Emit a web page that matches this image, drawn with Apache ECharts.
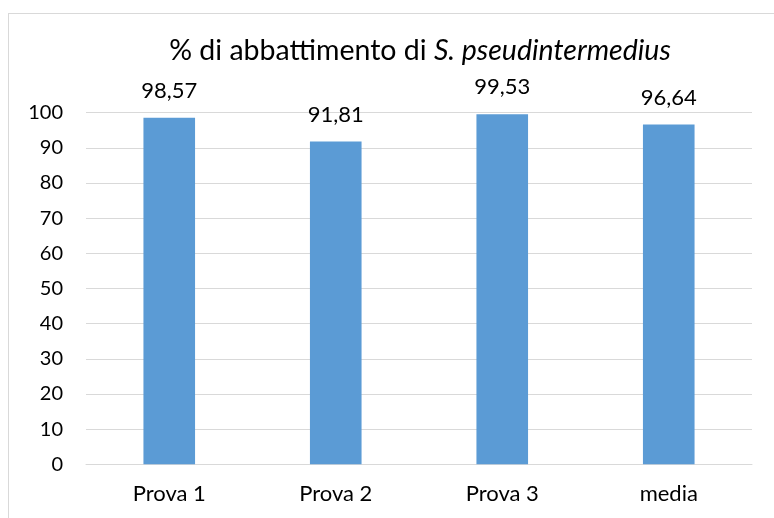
<!DOCTYPE html>
<html>
<head>
<meta charset="utf-8">
<script src="https://cdn.jsdelivr.net/npm/echarts@6/dist/echarts.min.js"></script>
<style>html,body{margin:0;padding:0;background:#fff}#c{width:774px;height:518px}</style>
</head>
<body>
<div id="c"></div>
<script>
const categories = ['Prova 1', 'Prova 2', 'Prova 3', 'media'];
const values = [98.57, 91.81, 99.53, 96.64];
const yTicks = [0, 10, 20, 30, 40, 50, 60, 70, 80, 90, 100];
const titleMain = '% di abbattimento di ';
const titleItalic = 'S. pseudintermedius';

const FONT = 'Lato';
const chart = echarts.init(document.getElementById('c'));
chart.setOption({
  backgroundColor: '#fff',
  animation: false,
  title: {
    text: '{a|' + titleMain + '}{b|' + titleItalic + '}',
    left: 415,
    top: 31,
    textAlign: 'center',
    textStyle: {
      rich: {
        a: { fontFamily: FONT, fontSize: 28.5, fontWeight: 'normal', color: '#000' },
        b: { fontFamily: FONT, fontSize: 28.5, fontWeight: 'normal', color: '#000', fontStyle: 'italic' }
      }
    }
  },
  graphic: [
    { type: 'line', shape: { x1: 8, y1: 13.5, x2: 774, y2: 13.5 }, style: { stroke: '#d9d9d9', lineWidth: 1 } },
    { type: 'line', shape: { x1: 8.5, y1: 13, x2: 8.5, y2: 518 }, style: { stroke: '#d9d9d9', lineWidth: 1 } }
  ],
  grid: { left: 86, right: 22, top: 112.7, bottom: 53.7, containLabel: false },
  xAxis: {
    type: 'category',
    data: categories,
    axisTick: { show: false },
    axisLine: { show: true, lineStyle: { color: '#d9d9d9', width: 1 } },
    axisLabel: { fontFamily: FONT, fontSize: 22, color: '#000', margin: 19 }
  },
  yAxis: {
    type: 'value',
    min: yTicks[0],
    max: yTicks[yTicks.length - 1],
    interval: 10,
    axisLine: { show: false },
    axisTick: { show: false },
    splitLine: { lineStyle: { color: '#d9d9d9', width: 1 } },
    axisLabel: { fontFamily: FONT, fontSize: 20, color: '#000', margin: 23 }
  },
  series: [{
    type: 'bar',
    data: values,
    barWidth: '31%',
    itemStyle: { color: '#5B9BD5' },
    label: {
      show: true,
      position: 'top',
      distance: 16,
      fontFamily: FONT,
      fontSize: 22,
      color: '#000',
      formatter: p => p.value.toFixed(2).replace('.', ',')
    }
  }]
});
</script>
</body>
</html>
